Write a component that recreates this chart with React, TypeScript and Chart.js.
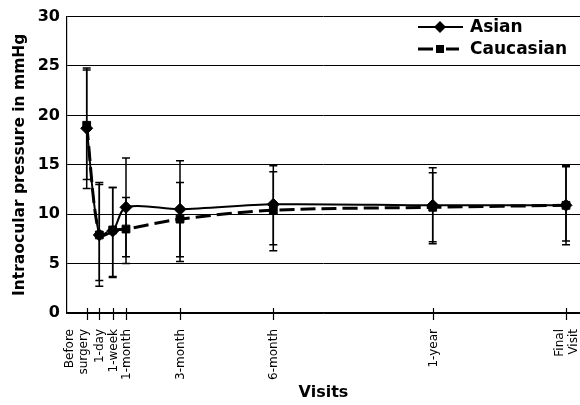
import React, { useEffect, useRef } from 'react';
import { Chart, registerables } from 'chart.js';

Chart.register(...registerables);

const visitLabels: string[][] = [['Before', 'surgery'], ['1-day'], ['1-week'], ['1-month'], ['3-month'], ['6-month'], ['1-year'], ['Final', 'Visit']];
const visitX = [0, 12.6, 26, 39.3, 93.3, 186.6, 346, 479.3];

const asianMean = [18.7, 7.9, 8.3, 10.7, 10.5, 11.0, 10.9, 10.9];
const asianLow = [12.6, 2.7, 3.6, 5.7, 5.2, 6.3, 7.0, 6.9];
const asianHigh = [24.8, 13.2, 12.7, 15.7, 15.4, 14.9, 14.7, 14.9];

const caucMean = [19.0, 7.9, 8.4, 8.5, 9.5, 10.4, 10.7, 10.9];
const caucLow = [13.5, 3.3, 3.7, 5.0, 5.7, 6.9, 7.2, 7.3];
const caucHigh = [24.6, 13.0, 12.7, 11.7, 13.2, 14.3, 14.2, 14.8];

const seriesNames = ['Asian', 'Caucasian'];
const yMin = 0;
const yMax = 30;
const yStep = 5;

const FONT = "'DejaVu Sans', sans-serif";

export default function App() {
  const ref = useRef<HTMLCanvasElement | null>(null);

  useEffect(() => {
    document.body.style.margin = '0';
    const canvas = ref.current;
    if (!canvas) return;

    const errorBars = {
      id: 'errorBars',
      beforeDatasetsDraw(chart: any) {
        const { ctx, scales } = chart;
        const xs = scales.x;
        const ys = scales.y;
        ctx.save();
        ctx.strokeStyle = '#000';
        ctx.lineWidth = 1.5;
        const sets = [
          [asianLow, asianHigh],
          [caucLow, caucHigh],
        ];
        sets.forEach(([lo, hi]) => {
          visitX.forEach((xv, i) => {
            const px = xs.getPixelForValue(xv);
            const y1 = ys.getPixelForValue(lo[i]);
            const y2 = ys.getPixelForValue(hi[i]);
            ctx.beginPath();
            ctx.moveTo(px, y1);
            ctx.lineTo(px, y2);
            ctx.moveTo(px - 4, y1);
            ctx.lineTo(px + 4, y1);
            ctx.moveTo(px - 4, y2);
            ctx.lineTo(px + 4, y2);
            ctx.stroke();
          });
        });
        ctx.restore();
      },
      afterDraw(chart: any) {
        const { ctx, scales, chartArea } = chart;
        const xs = scales.x;
        ctx.save();
        ctx.strokeStyle = '#000';
        ctx.fillStyle = '#000';
        ctx.lineWidth = 1.2;
        ctx.font = `12px ${FONT}`;
        ctx.textAlign = 'right';
        ctx.textBaseline = 'middle';
        const lineGap = 14;
        visitX.forEach((xv, i) => {
          const px = Math.round(xs.getPixelForValue(xv)) + 0.5;
          ctx.beginPath();
          ctx.moveTo(px, chartArea.bottom - 5);
          ctx.lineTo(px, chartArea.bottom + 7);
          ctx.stroke();
          const lines = visitLabels[i];
          const shift = i === 0 ? -(lines.length - 1) * lineGap / 2 - 4 : 0;
          const start = px + shift - ((lines.length - 1) * lineGap) / 2;
          lines.forEach((t, k) => {
            ctx.save();
            ctx.translate(start + k * lineGap, chartArea.bottom + 16);
            ctx.rotate(-Math.PI / 2);
            ctx.fillText(t, 0, 0);
            ctx.restore();
          });
        });
        // legend
        const lx = 418;
        const rows = [27, 49];
        ctx.lineWidth = 2;
        ctx.setLineDash([]);
        ctx.beginPath();
        ctx.moveTo(lx, rows[0]);
        ctx.lineTo(lx + 45, rows[0]);
        ctx.stroke();
        ctx.beginPath();
        ctx.moveTo(lx + 22 - 6, rows[0]);
        ctx.lineTo(lx + 22, rows[0] - 6);
        ctx.lineTo(lx + 22 + 6, rows[0]);
        ctx.lineTo(lx + 22, rows[0] + 6);
        ctx.closePath();
        ctx.fill();
        ctx.lineWidth = 3.2;
        ctx.beginPath();
        ctx.moveTo(lx, rows[1]);
        ctx.lineTo(lx + 15, rows[1]);
        ctx.moveTo(lx + 28, rows[1]);
        ctx.lineTo(lx + 41, rows[1]);
        ctx.stroke();
        ctx.fillRect(lx + 22 - 4, rows[1] - 4, 8, 8);
        ctx.font = `bold 17px ${FONT}`;
        ctx.textBaseline = 'middle';
        ctx.textAlign = 'left';
        ctx.fillText(seriesNames[0], lx + 52, rows[0] + 1);
        ctx.fillText(seriesNames[1], lx + 52, rows[1] + 1);
        ctx.restore();
      },
    };

    const chart = new Chart(canvas, {
      type: 'line',
      data: {
        datasets: [
          {
            label: seriesNames[0],
            data: visitX.map((x, i) => ({ x, y: asianMean[i] })),
            borderColor: '#000',
            backgroundColor: '#000',
            borderWidth: 2,
            pointStyle: 'rectRot',
            pointRadius: 6,
            pointBorderWidth: 1,
            tension: 0.3,
            fill: false,
          },
          {
            label: seriesNames[1],
            data: visitX.map((x, i) => ({ x, y: caucMean[i] })),
            borderColor: '#000',
            backgroundColor: '#000',
            borderWidth: 3,
            borderDash: [15, 6],
            pointStyle: 'rect',
            pointRadius: 5.5,
            pointBorderWidth: 1,
            tension: 0.3,
            fill: false,
          },
        ],
      },
      options: {
        responsive: false,
        animation: false,
        devicePixelRatio: 1,
        layout: { autoPadding: false, padding: { top: 13, right: 0, left: 0, bottom: 0 } },
        plugins: {
          legend: { display: false },
          tooltip: { enabled: false },
        },
        scales: {
          x: {
            type: 'linear',
            min: -19.7,
            max: 493.3,
            afterBuildTicks: (scale: any) => {
              scale.ticks = visitX.map((v) => ({ value: v }));
            },
            afterFit: (scale: any) => {
              scale.height = 92;
              scale.paddingLeft = 0;
              scale.paddingRight = 0;
            },
            grid: { display: false },
            border: { display: true, color: '#000', width: 1.2 },
            ticks: { display: false },
            title: {
              display: true,
              text: 'Visits',
              color: '#000',
              font: { family: FONT, size: 16, weight: 'bold' },
              padding: { top: 0, bottom: 3 },
            },
          },
          y: {
            min: yMin,
            max: yMax,
            afterFit: (scale: any) => {
              scale.width = 67;
            },
            grid: { color: '#000', lineWidth: 1, drawTicks: false },
            border: { display: true, color: '#000', width: 1.2 },
            ticks: {
              stepSize: yStep,
              padding: 7,
              color: '#000',
              font: { family: FONT, size: 16, weight: 'bold' },
            },
            title: {
              display: true,
              text: 'Intraocular pressure in mmHg',
              color: '#000',
              font: { family: FONT, size: 15.5, weight: 'bold' },
              padding: { top: 11, bottom: 0 },
            },
          },
        },
      },
      plugins: [errorBars],
    } as any);

    return () => chart.destroy();
  }, []);

  return <canvas ref={ref} width={580} height={405} style={{ display: 'block' }} />;
}
